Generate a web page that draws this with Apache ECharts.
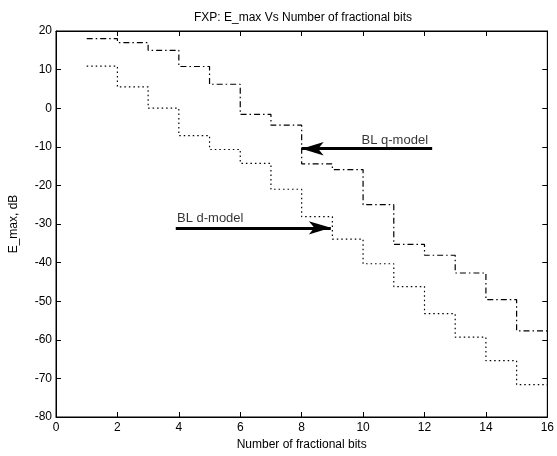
<!DOCTYPE html>
<html>
<head>
<meta charset="utf-8">
<script src="https://cdn.jsdelivr.net/npm/echarts@6/dist/echarts.min.js"></script>
<style>
html,body{margin:0;padding:0;background:#fff;}
#chart{width:557px;height:456px;}
</style>
</head>
<body>
<div id="chart"></div>
<script>
// Number of fractional bits (stair edges)
var bits = [1,2,3,4,5,6,7,8,9,10,11,12,13,14,15,16];
// E_max (dB) for each step, BL q-model (dash-dot)
var qModel = [18.0, 17.0, 15.0, 10.8, 6.2, -1.6, -4.4, -14.4, -15.9, -25.0, -35.3, -38.1, -42.7, -49.6, -57.7];
// E_max (dB) for each step, BL d-model (dotted)
var dModel = [10.9, 5.5, 0.0, -7.1, -10.7, -14.3, -21.0, -28.1, -33.9, -40.3, -46.2, -53.2, -59.3, -65.4, -71.6];
// annotation arrows: [tailX, tipX, y]
var qArrow = [12.25, 8.0, -10.5];
var dArrow = [3.9, 8.95, -31];
var qLabel = ['BL q-model', 9.95, -8.3];
var dLabel = ['BL d-model', 3.94, -28.5];

function stairs(vals){
  return bits.map(function(b,i){ return [b, vals[Math.min(i, vals.length-1)]]; });
}

var font = 'Liberation Sans, Arial, Helvetica, sans-serif';
var chart = echarts.init(document.getElementById('chart'));

function arrowLine(a){
  return {
    silent: true,
    symbol: ['none','arrow'],
    symbolSize: [10, 22],
    lineStyle: {color:'#000', width:3, type:'solid'},
    label: {show:false},
    data: [[{coord:[a[0], a[2]]},{coord:[a[1], a[2]]}]]
  };
}

chart.setOption({
  animation: false,
  backgroundColor: '#fff',
  title: {
    text: 'FXP: E_max Vs Number of fractional bits',
    left: 298, textAlign: 'center', top: 7,
    textStyle: {fontFamily: font, fontSize: 12, fontWeight: 'normal', color:'#000'}
  },
  grid: {left: 52, right: 9, top: 31, bottom: 39, show: true, borderColor:'#000', borderWidth: 1},
  xAxis: [{
    type: 'value', min: 0, max: 16, interval: 2,
    name: 'Number of fractional bits', nameLocation: 'middle', nameGap: 22,
    nameTextStyle: {fontFamily: font, fontSize: 12, color:'#000'},
    axisLine: {show: true, onZero: false, lineStyle:{color:'#000', width:1}},
    axisTick: {show: true, inside: true, length: 5, lineStyle:{color:'#000'}},
    axisLabel: {fontFamily: font, fontSize: 12, color:'#000', margin: 5},
    splitLine: {show: false}
  },{
    type: 'value', min: 0, max: 16, interval: 2, position: 'top',
    axisLine: {show: true, onZero: false, lineStyle:{color:'#000', width:1}},
    axisTick: {show: true, inside: true, length: 5, lineStyle:{color:'#000'}},
    axisLabel: {show: false}, splitLine: {show: false}
  }],
  yAxis: [{
    type: 'value', min: -80, max: 20, interval: 10,
    name: 'E_max, dB', nameLocation: 'middle', nameGap: 36, nameRotate: 90,
    nameTextStyle: {fontFamily: font, fontSize: 12, color:'#000'},
    axisLine: {show: true, onZero: false, lineStyle:{color:'#000', width:1}},
    axisTick: {show: true, inside: true, length: 5, lineStyle:{color:'#000'}},
    axisLabel: {fontFamily: font, fontSize: 12, color:'#000', margin: 4},
    splitLine: {show: false}
  },{
    type: 'value', min: -80, max: 20, interval: 10, position: 'right',
    axisLine: {show: true, onZero: false, lineStyle:{color:'#000', width:1}},
    axisTick: {show: true, inside: true, length: 5, lineStyle:{color:'#000'}},
    axisLabel: {show: false}, splitLine: {show: false}
  }],
  series: [{
    name: 'BL q-model', type: 'line', step: 'end', data: stairs(qModel),
    showSymbol: false, symbol: 'none',
    lineStyle: {color:'#000', width: 1.2, type: [6,3,1.5,3]},
    markLine: arrowLine(qArrow)
  },{
    name: 'BL d-model', type: 'line', step: 'end', data: stairs(dModel),
    showSymbol: false, symbol: 'none',
    lineStyle: {color:'#000', width: 1.2, type: [1.5,3]},
    markLine: arrowLine(dArrow)
  },{
    type: 'scatter', symbolSize: 0, silent: true,
    data: [[qLabel[1], qLabel[2], qLabel[0]], [dLabel[1], dLabel[2], dLabel[0]]],
    label: {
      show: true, position: 'right', distance: 0,
      formatter: function(p){ return p.value[2]; },
      fontFamily: font, fontSize: 13, color:'#000'
    }
  }]
});
</script>
</body>
</html>
